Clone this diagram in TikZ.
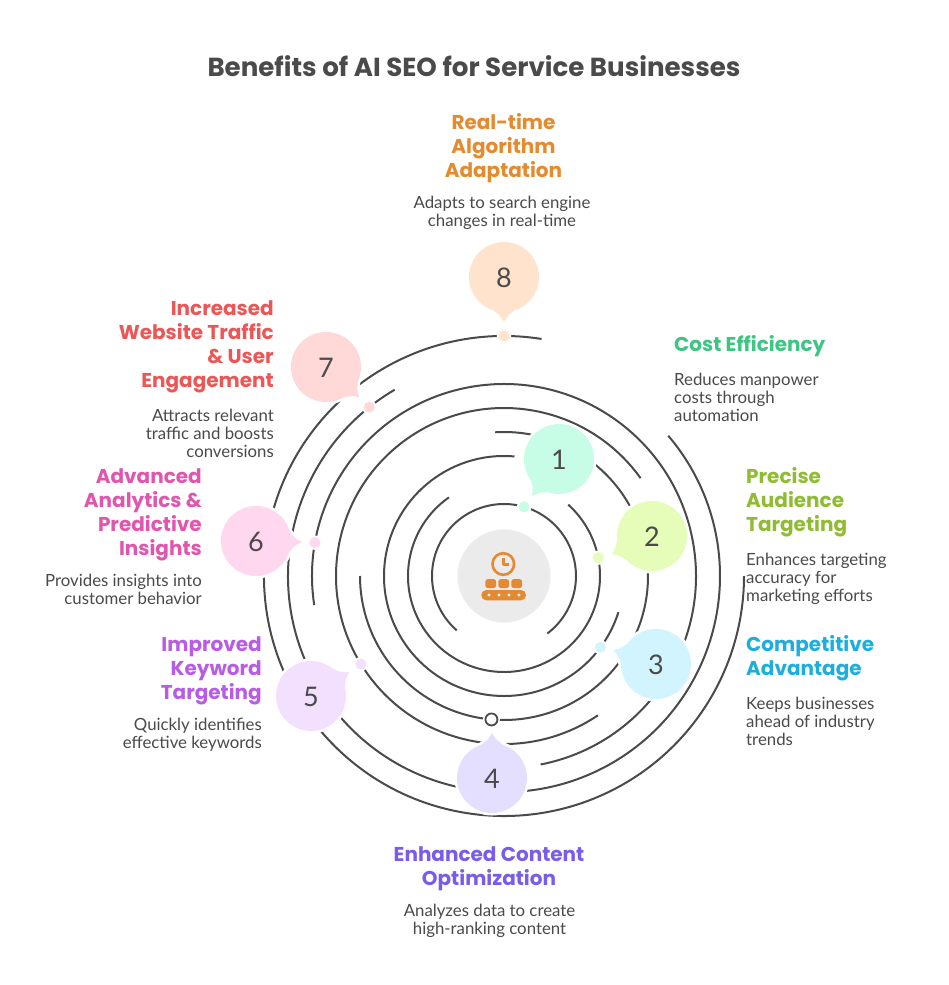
\documentclass[tikz,border=0pt]{standalone}
\usepackage{fontspec}
\setmainfont{Lato}
\newfontfamily\headfam{Poppins}
\usetikzlibrary{calc}
\definecolor{ink}{HTML}{4A4A4A}
\definecolor{cA}{HTML}{C7FCE6}\definecolor{tA}{HTML}{3CC583}
\definecolor{cB}{HTML}{E6FDB9}\definecolor{tB}{HTML}{8FBC33}
\definecolor{cC}{HTML}{D1F4FE}\definecolor{tC}{HTML}{1EAEDB}
\definecolor{cD}{HTML}{E4DFFF}\definecolor{tD}{HTML}{7A5CEB}
\definecolor{cE}{HTML}{F3E0FF}\definecolor{tE}{HTML}{B85CE6}
\definecolor{cF}{HTML}{FFD8F0}\definecolor{tF}{HTML}{E055AE}
\definecolor{cG}{HTML}{FFD8D8}\definecolor{tG}{HTML}{EB5757}
\definecolor{cH}{HTML}{FFE3CD}\definecolor{tH}{HTML}{E58B2E}
\definecolor{iconc}{HTML}{E38A33}
\definecolor{hubc}{HTML}{EBEBEB}
\tikzset{
  ring/.style={draw=ink,line width=2pt,line cap=butt},
  head/.style={font=\headfam\bfseries\fontsize{20}{24}\selectfont,inner sep=0pt,text=#1},
  body/.style={font=\fontsize{16.8}{18}\selectfont,inner sep=0pt,text=ink},
  numb/.style={font=\fontsize{27}{30}\selectfont,text=ink,inner sep=0pt},
  dotn/.style={circle,inner sep=0pt,minimum size=11pt,fill=#1},
}
\newcommand{\ringarc}[3]{\draw[ring] ($(C)+(#2:#1)$) arc[start angle=#2,end angle=#3,radius=#1];}
% name, cx, cy, tipx, tipy, colour, number
\newcommand{\balloon}[7]{%
  \coordinate (#1c) at (#2,-#3);
  \coordinate (#1t) at (#4,-#5);
  \path let \p1=($(#1t)-(#1c)$), \n1={atan2(\y1,\x1)} in
    coordinate (#1a) at ($(#1c)+(\n1+18:35)$)
    coordinate (#1b) at ($(#1c)+(\n1-18:35)$)
    coordinate (#1p) at ($(#1c)+(\n1+6:38.5)$)
    coordinate (#1q) at ($(#1c)+(\n1-6:38.5)$);
  \draw[white,fill=white,line width=5pt,line join=round] (#1c) circle[radius=35] (#1b) .. controls (#1q) .. (#1t) .. controls (#1p) .. (#1a) -- cycle;
  \fill[#6] (#1c) circle[radius=35] (#1b) .. controls (#1q) .. (#1t) .. controls (#1p) .. (#1a) -- cycle;
  \node[numb,yshift=-1pt] (#1) at (#1c) {#7};
}
\newcommand{\ringdot}[4]{%
  \fill[white] ($(C)+(#3:#2)$) circle[radius=7.2];
  \node[dotn=#4] (#1) at ($(C)+(#3:#2)$) {};
}
\begin{document}
\begin{tikzpicture}[x=1pt,y=1pt]
\useasboundingbox (0,0) rectangle (948,-985);
\fill[white] (0,0) rectangle (948,-985);
\coordinate (C) at (504,-576);
% rings
\ringarc{72}{229}{-53}
\ringarc{96}{125}{408}
\ringarc{120}{85}{342.5}
\ringarc{144}{93.5}{-180}
\ringarc{168}{35.6}{304}
\ringarc{192}{188.7}{-79}
\ringarc{216}{120.4}{400.5}
\ringarc{240}{81}{360}
% hub
\node[circle,fill=hubc,minimum size=93pt,inner sep=0pt] (hub) at (C) {};
% icon
\draw[iconc,line width=2.6pt] (503.3,-564) circle[radius=10.8];
\draw[iconc,line width=2.2pt,line join=round] (503.5,-558) -- (503.5,-564.5) -- (509,-564.5);
\foreach \x in {485.3,498.3,511.3}
  \fill[iconc,rounded corners=2.4pt] (\x,-579.2) rectangle (\x+10.8,-588);
\fill[iconc,rounded corners=5pt] (481.3,-590) rectangle (526,-600.3);
\foreach \x in {489,499,509,519}
  \fill[white] (\x,-595) circle[radius=1.6];
% dots on rings
\ringdot{d1}{72}{73.8}{cA}
\ringdot{d2}{96}{11}{cB}
\ringdot{d3}{120}{-36.5}{cC}
\ringdot{d5}{168}{211.6}{cE}
\ringdot{d6}{192}{170}{cF}
\ringdot{d7}{216}{128.6}{cG}
\ringdot{d8}{240}{90}{cH}
\fill[white] ($(C)+(265:144)$) circle[radius=8.5];
\node[circle,draw=ink,fill=white,line width=1.8pt,inner sep=0pt,minimum size=12pt] (d4) at ($(C)+(265:144)$) {};
% balloons
\balloon{b1}{559}{459}{532}{496}{cA}{1}
\balloon{b2}{652}{536}{612}{554}{cB}{2}
\balloon{b3}{656}{664}{613}{650}{cC}{3}
\balloon{b4}{492}{778}{492}{733}{cD}{4}
\balloon{b5}{311}{696}{349}{672}{cE}{5}
\balloon{b6}{256}{541}{302}{542}{cF}{6}
\balloon{b7}{326}{367}{359}{397}{cG}{7}
\balloon{b8}{504}{277}{504}{322}{cH}{8}
% texts
\node[font=\headfam\bfseries\fontsize{26.1}{30}\selectfont,text=ink,inner sep=0pt] (title) at (474,-66) {Benefits of AI SEO for Service Businesses};
\node[head=tH,anchor=north,align=center] (h8) at (503.5,-112) {\strut Real-time\\Algorithm\\Adaptation};
\node[body,anchor=north,align=center] (t8) at (502,-195.4) {\strut Adapts to search engine\\changes in real-time};
\node[head=tA,anchor=north west,align=left] (h1) at (674,-334) {\strut Cost Efficiency};
\node[body,anchor=north west,align=left] (t1) at (674,-372.4) {\strut Reduces manpower\\costs through\\automation};
\node[head=tB,anchor=north west,align=left] (h2) at (746,-466) {\strut Precise\\Audience\\Targeting};
\node[body,anchor=north west,align=left] (t2) at (746,-552.4) {\strut Enhances targeting\\accuracy for\\marketing efforts};
\node[head=tC,anchor=north west,align=left] (h3) at (746,-634) {\strut Competitive\\Advantage};
\node[body,anchor=north west,align=left] (t3) at (746,-696.4) {\strut Keeps businesses\\ahead of industry\\trends};
\node[head=tD,anchor=north,align=center] (h4) at (489,-844) {\strut Enhanced Content\\Optimization};
\node[body,anchor=north,align=center] (t4) at (489.5,-903.4) {\strut Analyzes data to create\\high-ranking content};
\node[head=tE,anchor=north east,align=right] (h5) at (262,-634) {\strut Improved\\Keyword\\Targeting};
\node[body,anchor=north east,align=right] (t5) at (262,-717.4) {\strut Quickly identifies\\effective keywords};
\node[head=tF,anchor=north east,align=right] (h6) at (202,-466) {\strut Advanced\\Analytics \&\\Predictive\\Insights};
\node[body,anchor=north east,align=right] (t6) at (202,-573.4) {\strut Provides insights into\\customer behavior};
\node[head=tG,anchor=north east,align=right] (h7) at (274,-298) {\strut Increased\\Website Traffic\\\& User\\Engagement};
\node[body,anchor=north east,align=right] (t7) at (274,-408.4) {\strut Attracts relevant\\traffic and boosts\\conversions};
\end{tikzpicture}
\end{document}
